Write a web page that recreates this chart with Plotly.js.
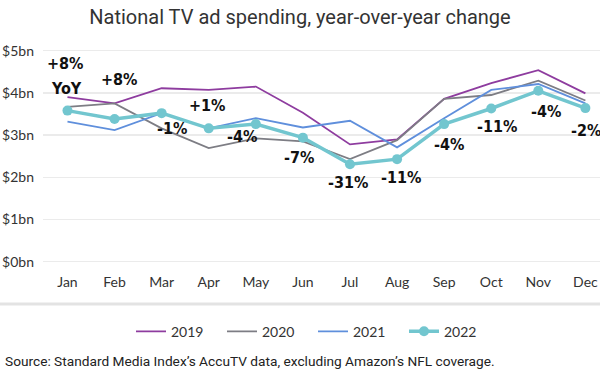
<!DOCTYPE html>
<html>
<head>
<meta charset="utf-8">
<script src="https://cdn.plot.ly/plotly-3.0.1.min.js"></script>
<style>html,body{margin:0;padding:0;background:#fff;}#chart{width:600px;height:375px;}</style>
</head>
<body>
<div id="chart"></div>
<script>
const months = ['Jan','Feb','Mar','Apr','May','Jun','Jul','Aug','Sep','Oct','Nov','Dec'];
const y2019 = [3.90, 3.75, 4.11, 4.07, 4.15, 3.53, 2.78, 2.90, 3.86, 4.23, 4.54, 3.99];
const y2020 = [3.67, 3.75, 3.16, 2.69, 2.92, 2.85, 2.43, 2.88, 3.86, 3.95, 4.29, 3.82];
const y2021 = [3.32, 3.12, 3.52, 3.16, 3.40, 3.18, 3.34, 2.71, 3.40, 4.07, 4.21, 3.75];
const y2022 = [3.58, 3.38, 3.52, 3.16, 3.26, 2.94, 2.31, 2.43, 3.26, 3.63, 4.05, 3.64];
const yoyLabels = ['+8%','+8%','-1%','+1%','-4%','-7%','-31%','-11%','-4%','-11%','-4%','-2%'];
const tickVals = [0, 1, 2, 3, 4, 5];
const tickText = ['$0bn','$1bn','$2bn','$3bn','$4bn','$5bn'];

// label offsets (px) relative to the 2022 point
const labelShift = [[-2,47],[5,40],[10,-15],[-1,23],[-14,-12],[-4,-20],[-2,-18],[4,-18],[5,-20],[6,-18],[8,-21],[1,-22]];

const xIdx = months.map((m,i)=>i);
const traces = [
  {x: xIdx, y: y2019, name: '2019', mode: 'lines', line: {color: '#8e3c9f', width: 1.8}},
  {x: xIdx, y: y2020, name: '2020', mode: 'lines', line: {color: '#7d7d84', width: 1.8}},
  {x: xIdx, y: y2021, name: '2021', mode: 'lines', line: {color: '#5f8fdc', width: 1.8}},
  {x: xIdx, y: y2022, name: '2022', mode: 'lines+markers', line: {color: '#72c6cf', width: 3.5}, marker: {color: '#72c6cf', size: 10}}
];

const labelFont = {family: '"Liberation Sans Narrow", "DejaVu Sans Condensed", "Arial Narrow", sans-serif', size: 16, color: '#111', weight: 700};
const annotations = yoyLabels.map((t,i)=>({
  x: i, y: y2022[i], xref: 'x', yref: 'y', text: '<b>'+t+'</b>', showarrow: false,
  xshift: labelShift[i][0], yshift: labelShift[i][1], font: labelFont, xanchor: 'center', yanchor: 'middle'
}));
annotations.push({x: 0, y: y2022[0], xref: 'x', yref: 'y', text: '<b>YoY</b>', showarrow: false,
  xshift: -1, yshift: 22, font: labelFont, xanchor: 'center', yanchor: 'middle'});
annotations.push({x: 0, y: 0, xref: 'paper', yref: 'paper', xanchor: 'left', yanchor: 'middle',
  xshift: -40, yshift: -95, showarrow: false,
  text: 'Source: Standard Media Index\u2019s AccuTV data, excluding Amazon\u2019s NFL coverage.',
  font: {family: 'Roboto, sans-serif', size: 13.7, color: '#222'}});

const layout = {
  width: 600, height: 375,
  margin: {l: 43, r: 0, t: 45, b: 109, pad: 0},
  paper_bgcolor: '#fff', plot_bgcolor: '#fff',
  title: {text: 'National TV ad spending, year-over-year change', x: 0.5, xref: 'container', xanchor: 'center',
    y: 1 - 17/375, yref: 'container', yanchor: 'middle',
    font: {family: 'Roboto, sans-serif', size: 20, color: '#333'}},
  xaxis: {range: [-0.52, 11.31], tickvals: xIdx, ticktext: months, showgrid: false, zeroline: false,
    showline: false, ticks: '', ticklabelstandoff: 6, fixedrange: true,
    tickfont: {family: 'Lato, "Open Sans", sans-serif', size: 14, color: '#333'}},
  yaxis: {range: [-0.102, 5.135], tickvals: tickVals, ticktext: tickText, showgrid: true,
    gridcolor: '#ebebeb', gridwidth: 1.5, zeroline: false, showline: false, ticks: '', ticklabelstandoff: 8,
    tickfont: {family: 'Lato, "Open Sans", sans-serif', size: 14, color: '#333'}},
  showlegend: true,
  legend: {orientation: 'h', x: (313-43)/557, xanchor: 'center', y: -(331.7-266)/221, yanchor: 'middle',
    font: {family: 'Lato, "Open Sans", sans-serif', size: 14, color: '#333'}, itemwidth: 30, entrywidth: 46},
  annotations: annotations,
  shapes: [{type: 'line', xref: 'paper', yref: 'paper', x0: -43/557, x1: 1, y0: -(304-266)/221, y1: -(304-266)/221,
    line: {color: '#e3e3e3', width: 3}}]
};
Plotly.newPlot('chart', traces, layout, {displayModeBar: false, staticPlot: true});
</script>
</body>
</html>
